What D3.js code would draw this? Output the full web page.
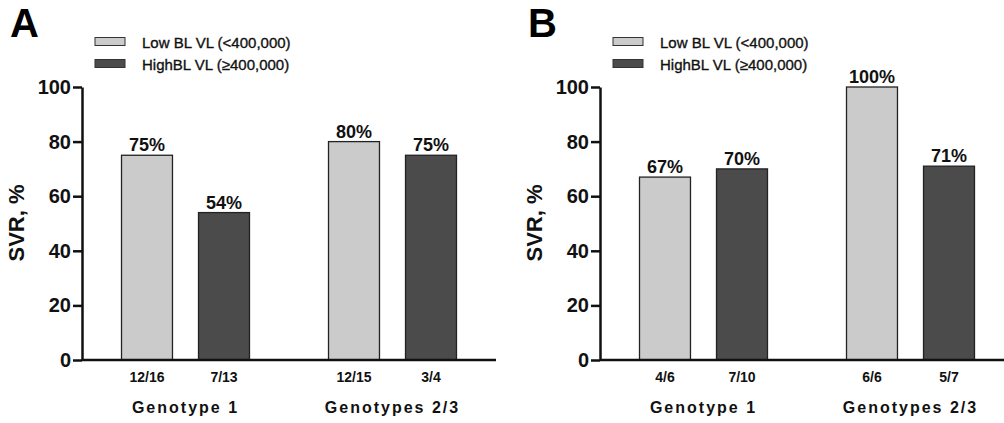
<!DOCTYPE html>
<html>
<head>
<meta charset="utf-8">
<script src="https://cdn.jsdelivr.net/npm/d3@7"></script>
<style>
  body { margin: 0; background: #fff; }
  svg { display: block; font-family: "Liberation Sans", Arial, sans-serif; }
</style>
</head>
<body>
<svg id="chart" width="1004" height="423"></svg>
<script>
// data
var groups = ["Genotype 1", "Genotypes 2/3"];
var seriesNames = ["Low BL VL (<400,000)", "HighBL VL (\u2265400,000)"];
var yTicks = [0, 20, 40, 60, 80, 100];

var lowA = [75, 80];
var highA = [54, 75];
var lowCountA = ["12/16", "12/15"];
var highCountA = ["7/13", "3/4"];

var lowB = [67, 100];
var highB = [70, 71];
var lowCountB = ["4/6", "6/6"];
var highCountB = ["7/10", "5/7"];

var fills = ["#cbcbcb", "#4b4b4b"];

var svg = d3.select("#chart");

function drawPanel(letter, left, low, high, lowCount, highCount) {
  var g = svg.append("g").attr("transform", "translate(" + left + ",0)");
  var axisW = 414;
  var y = d3.scaleLinear().domain([0, 100]).range([360, 87]);
  var x0 = d3.scaleBand().domain(groups).range([0, axisW]);
  var x1 = d3.scaleBand().domain([0, 1]).range([0, x0.bandwidth()])
      .paddingInner(0.338).paddingOuter(0.513);

  // panel letter
  g.append("text")
    .attr("x", -72).attr("y", 37)
    .attr("font-size", 40).attr("font-weight", "bold")
    .text(letter);

  // legend
  seriesNames.forEach(function(s, i) {
    g.append("rect")
      .attr("x", 13).attr("y", 37.5 + i * 22)
      .attr("width", 30).attr("height", 8)
      .attr("fill", fills[i]).attr("stroke", "#333").attr("stroke-width", 1);
    g.append("text")
      .attr("x", 60).attr("y", 48 + i * 22)
      .attr("font-size", 15).attr("fill", "#111")
      .attr("stroke", "#111").attr("stroke-width", 0.35)
      .text(s);
  });

  // bars
  var rows = groups.map(function(gr, i) {
    return [
      { group: gr, s: 0, v: low[i], n: lowCount[i] },
      { group: gr, s: 1, v: high[i], n: highCount[i] }
    ];
  });
  var flat = [].concat.apply([], rows);

  g.selectAll("rect.bar").data(flat).enter().append("rect")
    .attr("class", "bar")
    .attr("x", function(d) { return x0(d.group) + x1(d.s); })
    .attr("y", function(d) { return y(d.v); })
    .attr("width", x1.bandwidth())
    .attr("height", function(d) { return y(0) - y(d.v); })
    .attr("fill", function(d) { return fills[d.s]; })
    .attr("stroke", "#222").attr("stroke-width", 1.3);

  g.selectAll("text.val").data(flat).enter().append("text")
    .attr("class", "val")
    .attr("x", function(d) { return x0(d.group) + x1(d.s) + x1.bandwidth() / 2; })
    .attr("y", function(d) { return y(d.v) - 4; })
    .attr("text-anchor", "middle")
    .attr("font-size", 18).attr("font-weight", "bold").attr("fill", "#111")
    .text(function(d) { return d.v + "%"; });

  g.selectAll("text.cnt").data(flat).enter().append("text")
    .attr("class", "cnt")
    .attr("x", function(d) { return x0(d.group) + x1(d.s) + x1.bandwidth() / 2; })
    .attr("y", 381.5)
    .attr("text-anchor", "middle")
    .attr("font-size", 14).attr("font-weight", "bold").attr("fill", "#111")
    .text(function(d) { return d.n; });

  g.selectAll("text.grp").data(groups).enter().append("text")
    .attr("class", "grp")
    .attr("x", function(d) { return x0(d) + x0.bandwidth() / 2; })
    .attr("y", 413)
    .attr("text-anchor", "middle")
    .attr("font-size", 16).attr("font-weight", "bold").attr("fill", "#111")
    .attr("letter-spacing", 2)
    .text(function(d) { return d; });

  // axes
  g.append("line")
    .attr("x1", 0).attr("x2", axisW)
    .attr("y1", y(0)).attr("y2", y(0))
    .attr("stroke", "#111").attr("stroke-width", 2.5);

  var ax = g.append("g")
    .call(d3.axisLeft(y).tickValues(yTicks).tickSize(9).tickSizeOuter(0).tickPadding(2));
  ax.select(".domain").attr("stroke", "#111").attr("stroke-width", 2.5);
  ax.selectAll(".tick line").attr("stroke", "#111").attr("stroke-width", 2.5);
  ax.selectAll(".tick text")
    .attr("font-size", 20).attr("font-weight", "bold").attr("fill", "#111")
    .attr("font-family", "Liberation Sans, Arial, sans-serif");

  g.append("text")
    .attr("transform", "translate(-58,223) rotate(-90)")
    .attr("text-anchor", "middle")
    .attr("font-size", 22).attr("font-weight", "bold").attr("fill", "#111")
    .text("SVR, %");
}

drawPanel("A", 82, lowA, highA, lowCountA, highCountA);
drawPanel("B", 600, lowB, highB, lowCountB, highCountB);
</script>
</body>
</html>
